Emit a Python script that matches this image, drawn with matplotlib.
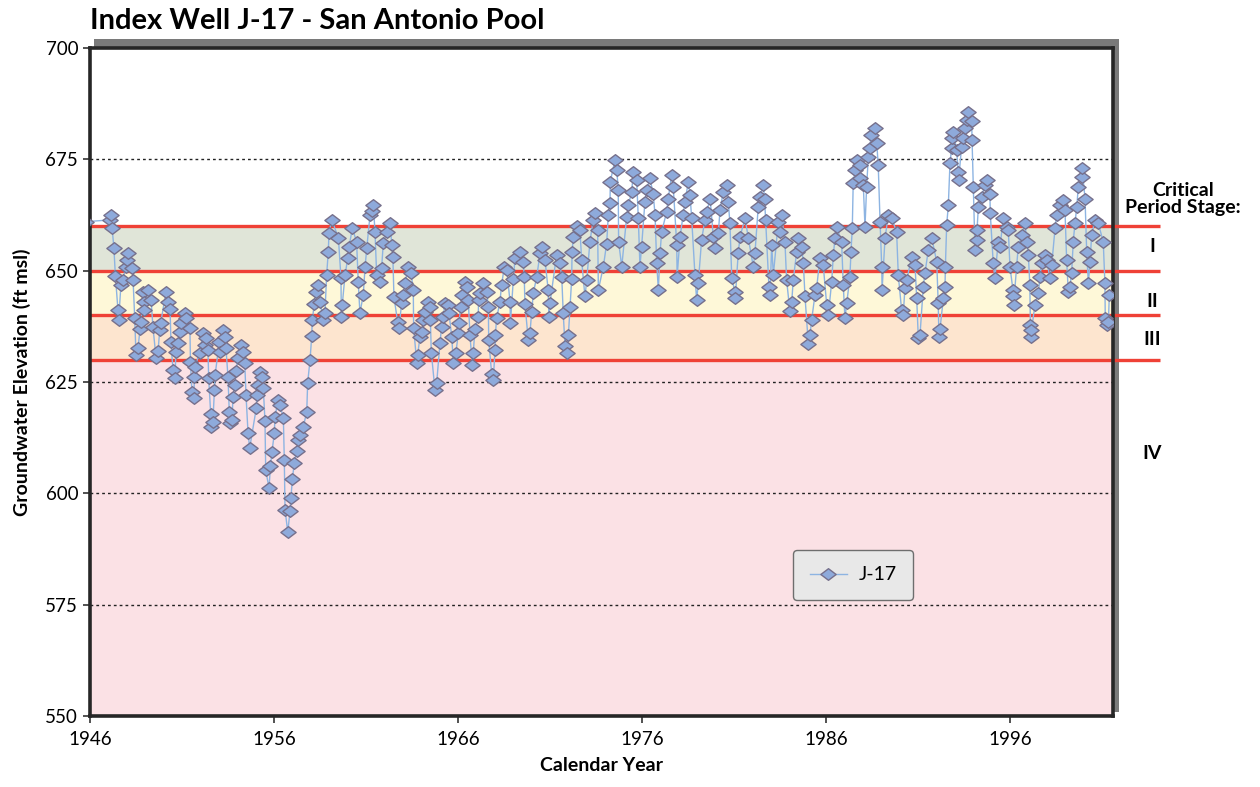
import matplotlib
matplotlib.use("Agg")
import matplotlib.pyplot as plt
import matplotlib.patches as mpatches
from matplotlib.path import Path
import matplotlib.transforms as mtransforms

plt.rcParams['font.family'] = ['Lato', 'DejaVu Sans']

yr_a = [1945.80, 1947.08, 1947.14, 1947.20, 1947.30, 1947.38, 1947.52, 1947.56,
        1947.68, 1947.79, 1947.94, 1948.01, 1948.07, 1948.28, 1948.34, 1948.43,
        1948.50, 1948.61, 1948.72, 1948.77, 1948.88, 1948.93, 1948.96, 1949.15,
        1949.32, 1949.42, 1949.59, 1949.70, 1949.79, 1949.84, 1950.13, 1950.24,
        1950.35, 1950.40, 1950.51, 1950.62, 1950.67, 1950.78, 1950.89, 1950.95,
        1951.15, 1951.22, 1951.43, 1951.46, 1951.54, 1951.65, 1951.67, 1951.69,
        1951.96, 1952.14, 1952.23, 1952.30, 1952.41, 1952.45, 1952.56, 1952.58,
        1952.68, 1952.76, 1952.80, 1953.03, 1953.06, 1953.23, 1953.32, 1953.39,
        1953.50, 1953.57, 1953.61, 1953.72, 1953.77, 1953.86, 1953.94, 1954.04,
        1954.21, 1954.32, 1954.41, 1954.48, 1954.59, 1954.68]
ft_a = [661.0, 661.4, 662.5, 659.6, 655.0, 648.8, 641.2, 639.0,
        646.8, 648.0, 650.8, 652.4, 654.0, 650.6, 648.0, 639.4,
        631.0, 632.6, 636.9, 638.5, 645.2, 643.0, 641.2, 645.6,
        643.4, 637.4, 630.4, 632.0, 636.7, 638.2, 645.2, 643.0,
        641.4, 634.0, 627.7, 625.9, 631.7, 633.8, 636.2, 638.2,
        640.5, 639.4, 637.1, 629.5, 622.8, 621.4, 626.1, 628.4,
        631.5, 636.0, 633.3, 634.9, 632.2, 625.9, 617.8, 614.9,
        616.0, 623.2, 626.6, 634.0, 631.7, 636.7, 635.1, 632.6,
        626.1, 618.3, 615.8, 616.5, 621.6, 624.3, 627.5, 630.4,
        633.3, 631.7, 629.3, 622.0, 613.5, 610.2]

yr_b = [1955.04, 1955.07, 1955.15, 1955.24, 1955.36, 1955.42, 1955.51, 1955.55,
        1955.73, 1955.81, 1955.89, 1956.02, 1956.05, 1956.23, 1956.33, 1956.51,
        1956.56, 1956.60, 1956.75, 1956.87, 1956.92, 1957.00, 1957.10, 1957.23,
        1957.32, 1957.41, 1957.59, 1957.78, 1957.83, 1957.96, 1958.05, 1958.08,
        1958.19, 1958.27, 1958.38, 1958.50, 1958.68, 1958.77, 1958.86, 1958.95,
        1958.99, 1959.14, 1959.50, 1959.64, 1959.66, 1959.71, 1959.86, 1960.01,
        1960.08, 1960.26, 1960.49, 1960.58, 1960.67, 1960.85, 1960.95, 1961.04,
        1961.22, 1961.31, 1961.40, 1961.49, 1961.58, 1961.76, 1961.85, 1961.94,
        1962.13, 1962.30, 1962.40, 1962.46, 1962.52, 1962.72, 1962.79, 1962.94,
        1963.03, 1963.12, 1963.30, 1963.45, 1963.57, 1963.59, 1963.76, 1963.81,
        1963.93, 1964.03, 1964.11, 1964.21]
ft_b = [619.2, 622.1, 624.3, 627.3, 626.2, 623.6, 616.2, 605.2,
        601.2, 606.2, 609.3, 613.6, 617.1, 621.0, 619.8, 616.9,
        607.5, 596.3, 591.3, 596.0, 599.0, 603.2, 606.8, 609.5,
        612.0, 613.1, 614.9, 618.3, 624.8, 630.0, 635.3, 638.9,
        642.5, 645.2, 646.8, 643.0, 638.9, 640.5, 649.0, 654.2,
        658.5, 661.4, 657.4, 648.4, 639.6, 642.3, 649.0, 652.8,
        655.3, 659.6, 656.4, 647.4, 640.5, 644.5, 650.8, 655.0,
        662.5, 663.4, 664.7, 658.7, 649.0, 647.4, 650.6, 656.2,
        658.7, 660.7, 655.8, 653.1, 644.1, 638.5, 637.1, 642.7,
        644.5, 647.2, 650.8, 649.5, 645.7, 637.1, 629.3, 631.1,
        635.1, 636.2, 638.9, 640.7]

yr_c = [1964.39, 1964.46, 1964.50, 1964.55, 1964.75, 1964.84, 1965.02, 1965.11,
        1965.20, 1965.29, 1965.47, 1965.51, 1965.66, 1965.75, 1965.88, 1966.02,
        1966.04, 1966.16, 1966.23, 1966.38, 1966.47, 1966.56, 1966.65, 1966.78,
        1966.83, 1966.92, 1967.10, 1967.12, 1967.20, 1967.37, 1967.56, 1967.65,
        1967.67, 1967.83, 1967.92, 1968.01, 1968.03, 1968.10, 1968.28, 1968.37,
        1968.52, 1968.65, 1968.83, 1968.85, 1969.01, 1969.10, 1969.37, 1969.55,
        1969.60, 1969.64, 1969.82, 1969.91, 1970.01, 1970.09, 1970.28, 1970.46,
        1970.55, 1970.73, 1970.90, 1970.94, 1971.00, 1971.36, 1971.54, 1971.64,
        1971.72, 1971.82, 1971.91, 1972.00, 1972.09, 1972.18, 1972.20, 1972.27,
        1972.45, 1972.63, 1972.72, 1972.90, 1973.00, 1973.17, 1973.35, 1973.45,
        1973.59, 1973.63]
ft_c = [643.0, 641.9, 638.9, 631.6, 623.2, 624.7, 633.7, 637.4,
        639.7, 642.7, 642.3, 640.4, 635.2, 629.2, 631.4, 635.9,
        638.2, 641.9, 644.5, 647.5, 646.4, 643.4, 635.5, 628.8,
        631.4, 637.0, 639.7, 643.4, 644.9, 647.2, 645.3, 641.9,
        634.4, 626.9, 625.4, 632.2, 635.5, 639.3, 643.0, 646.8,
        650.9, 650.2, 643.0, 638.2, 648.2, 652.8, 654.3, 651.9,
        648.6, 642.5, 634.4, 635.9, 640.8, 644.9, 648.6, 653.9,
        655.4, 652.4, 645.7, 639.7, 642.7, 653.6, 651.7, 648.6,
        640.4, 633.0, 631.4, 635.5, 641.9, 648.2, 654.3, 657.5,
        660.0, 659.1, 652.4, 644.2, 647.9, 656.5, 661.4, 662.9,
        659.1, 645.7]

yr_d = [1973.90, 1974.08, 1974.17, 1974.26, 1974.28, 1974.53, 1974.63, 1974.71,
        1974.73, 1974.90, 1975.17, 1975.26, 1975.44, 1975.53, 1975.71, 1975.80,
        1975.89, 1975.98, 1976.16, 1976.26, 1976.43, 1976.61, 1976.71, 1976.80,
        1976.89, 1976.98, 1977.07, 1977.34, 1977.43, 1977.61, 1977.70, 1977.89,
        1977.91, 1978.07, 1978.24, 1978.34, 1978.52, 1978.61, 1978.70, 1978.88,
        1978.97, 1979.06, 1979.24, 1979.42, 1979.52, 1979.70, 1979.88, 1979.97,
        1980.15, 1980.24, 1980.42, 1980.60, 1980.69, 1980.78, 1980.88, 1981.05,
        1981.07, 1981.23, 1981.33, 1981.60, 1981.78, 1982.05, 1982.14, 1982.32,
        1982.41]
ft_d = [650.9, 656.1, 662.5, 665.1, 670.0, 674.8, 672.6, 668.1,
        656.5, 650.9, 662.1, 664.7, 667.7, 672.2, 670.4, 661.8,
        650.9, 655.4, 665.5, 668.1, 670.7, 667.3, 662.5, 651.7,
        645.7, 653.9, 658.7, 663.2, 666.2, 671.5, 668.8, 655.8,
        648.6, 657.6, 662.5, 665.5, 670.0, 667.0, 661.8, 649.0,
        643.4, 647.2, 656.9, 661.4, 663.2, 666.2, 657.6, 655.0,
        658.4, 663.6, 667.7, 669.2, 665.5, 660.6, 648.3, 645.3,
        643.8, 653.9, 657.6, 661.8, 657.3, 650.9, 653.9, 664.4,
        666.6]

yr_e = [1982.60, 1982.66, 1982.72, 1982.90, 1982.96, 1983.05, 1983.14, 1983.41,
        1983.50, 1983.59, 1983.77, 1983.86, 1984.04, 1984.14, 1984.22, 1984.41,
        1984.50, 1984.68, 1984.77, 1984.86, 1985.04, 1985.13, 1985.22, 1985.40,
        1985.49, 1985.67, 1985.85, 1986.04, 1986.13, 1986.31, 1986.40, 1986.49,
        1986.58, 1986.85, 1986.94, 1987.03, 1987.13, 1987.30, 1987.36, 1987.43,
        1987.48, 1987.58, 1987.67, 1987.85, 1987.87, 1988.03, 1988.12, 1988.21,
        1988.30, 1988.39, 1988.45, 1988.66, 1988.76, 1988.84, 1988.94, 1989.03,
        1989.05, 1989.21, 1989.39, 1989.57, 1989.84, 1989.93, 1990.11, 1990.20,
        1990.29, 1990.39, 1990.66, 1990.84, 1990.93, 1991.02, 1991.11, 1991.29,
        1991.38, 1991.56, 1991.75]
ft_e = [669.2, 666.2, 661.4, 646.4, 644.5, 655.8, 649.0, 661.0,
        658.7, 662.5, 656.5, 647.9, 640.9, 643.0, 647.9, 654.3,
        657.3, 655.4, 651.7, 644.2, 633.6, 635.5, 638.9, 644.5,
        646.0, 652.8, 651.3, 642.3, 640.1, 647.5, 653.5, 657.3,
        659.8, 656.5, 646.8, 639.3, 642.7, 648.6, 654.3, 659.5,
        669.6, 672.6, 674.8, 673.7, 670.7, 669.2, 659.8, 668.8,
        675.6, 677.5, 680.5, 682.0, 678.6, 673.7, 661.0, 650.9,
        645.7, 657.3, 662.5, 661.8, 658.7, 649.0, 641.2, 640.1,
        646.0, 647.9, 653.1, 651.3, 643.8, 634.8, 635.5, 646.4,
        649.4, 654.6, 657.3]

yr_f = [1992.02, 1992.10, 1992.14, 1992.20, 1992.38, 1992.47, 1992.49, 1992.56,
        1992.65, 1992.74, 1992.83, 1992.85, 1992.92, 1993.10, 1993.19, 1993.21,
        1993.37, 1993.46, 1993.55, 1993.65, 1993.73, 1993.92, 1993.94, 1994.01,
        1994.10, 1994.19, 1994.21, 1994.28, 1994.46, 1994.64, 1994.73, 1994.91,
        1994.93, 1995.09, 1995.18, 1995.36, 1995.46, 1995.64, 1995.82, 1995.91,
        1996.00, 1996.16, 1996.18, 1996.20, 1996.36, 1996.45, 1996.64, 1996.82,
        1996.91, 1997.00, 1997.08, 1997.11, 1997.14, 1997.17, 1997.36, 1997.54,
        1997.63, 1997.72, 1997.90, 1998.00, 1998.17, 1998.27, 1998.45, 1998.54,
        1998.72, 1998.90, 1998.99, 1999.08, 1999.17, 1999.26, 1999.35, 1999.44,
        1999.53, 1999.63, 1999.71, 1999.90, 1999.92, 2000.08, 2000.17, 2000.26,
        2000.35, 2000.44, 2000.62, 2000.80, 2001.07, 2001.16, 2001.18, 2001.26,
        2001.35, 2001.40]
ft_f = [652.0, 642.7, 635.2, 637.0, 643.8, 646.4, 650.9, 660.2,
        664.7, 674.1, 677.5, 679.7, 681.2, 677.1, 672.2, 670.4,
        677.8, 679.7, 682.0, 683.8, 685.7, 683.5, 679.3, 668.8,
        654.6, 656.9, 659.1, 664.2, 666.6, 669.2, 670.4, 667.3,
        662.9, 651.7, 648.3, 656.5, 655.4, 661.8, 659.8, 659.1,
        650.9, 645.7, 644.2, 642.3, 650.9, 655.4, 658.0, 660.6,
        656.5, 653.5, 646.8, 637.8, 635.2, 636.7, 642.3, 644.9,
        648.6, 651.7, 653.5, 652.4, 648.3, 651.3, 659.5, 662.5,
        664.7, 665.8, 663.6, 652.4, 645.3, 646.4, 649.4, 656.5,
        660.6, 664.2, 668.7, 671.1, 673.0, 666.2, 654.3, 647.2,
        652.0, 658.0, 661.4, 660.6, 656.5, 647.2, 639.3, 637.8,
        638.5, 644.5]

stage_limits = [660, 650, 640, 630]
stage_labels = ['I', 'II', 'III', 'IV']
stage_label_ft = [655.5, 643.0, 634.5, 609.0]
x_ticks = [1946, 1956, 1966, 1976, 1986, 1996]
y_ticks = [550, 575, 600, 625, 650, 675, 700]
#############

years = yr_a + yr_b + yr_c + yr_d + yr_e + yr_f
elev = ft_a + ft_b + ft_c + ft_d + ft_e + ft_f
assert len(years) == len(elev)

fig = plt.figure(figsize=(12.6, 7.87), dpi=100)
ax = fig.add_axes([90 / 1260, 1 - 716 / 787, 1023 / 1260, 668 / 787])
ax.set_zorder(2)

# drop shadow behind the frame (top/right)
shadow = mpatches.Rectangle((94 / 1260, 1 - 712 / 787), 1025 / 1260, 668 / 787 + 5 / 787,
                            transform=fig.transFigure, facecolor='#7a7a7a',
                            edgecolor='none', zorder=1)
fig.add_artist(shadow)

# stage bands
ax.axhspan(650, 660, color='#e0e5d8', zorder=0, lw=0)
ax.axhspan(640, 650, color='#fef8d8', zorder=0, lw=0)
ax.axhspan(630, 640, color='#fde5cf', zorder=0, lw=0)
ax.axhspan(540, 630, color='#fbe1e5', zorder=0, lw=0)

for gy in [575, 600, 625, 675]:
    ax.axhline(gy, color='#222222', lw=1.0, ls=(0, (2, 2.2)), zorder=1)

# red stage lines run past the right edge of the frame
trans = mtransforms.blended_transform_factory(ax.transAxes, ax.transData)
for lim in stage_limits:
    ax.plot([0, (1160 - 90) / 1023], [lim, lim], color='#ef4136', lw=2.4,
            transform=trans, clip_on=False, zorder=2, solid_capstyle='butt')

diamond = Path([(-0.5, 0), (0, 0.38), (0.5, 0), (0, -0.38), (-0.5, 0)],
               [Path.MOVETO, Path.LINETO, Path.LINETO, Path.LINETO, Path.CLOSEPOLY])
ax.plot(years, elev, color='#8db4e2', lw=1.0, marker=diamond, markersize=11,
        markerfacecolor='#8eaadb', markeredgecolor='#76708c', markeredgewidth=1.0,
        zorder=3, label='J-17')

ax.set_xlim(1946, 2001.6)
ax.set_ylim(550, 700)
ax.set_xticks(x_ticks)
ax.set_yticks(y_ticks)
ax.tick_params(axis='both', labelsize=13.5, length=5, width=1.2, color='#333333')
ax.tick_params(axis='x', pad=6)

for side in ['left', 'bottom', 'top', 'right']:
    ax.spines[side].set_color('#262626')
    ax.spines[side].set_linewidth(2.6)

ax.set_ylabel('Groundwater Elevation (ft msl)', fontsize=14, fontweight='bold', labelpad=10)
ax.set_xlabel('Calendar Year', fontsize=14, fontweight='bold', labelpad=6)
fig.text(90 / 1260, 1 - 21 / 787, 'Index Well J-17 - San Antonio Pool', fontsize=21,
         fontweight='bold', va='center', ha='left')

lbl_trans = mtransforms.blended_transform_factory(fig.transFigure, ax.transData)
fig.text(1183 / 1260, 1 - 199 / 787, 'Critical\nPeriod Stage:', fontsize=14,
         fontweight='bold', ha='center', va='center', linespacing=1.05)
for lab, yv in zip(stage_labels, stage_label_ft):
    ax.text(1152 / 1260, yv, lab, transform=lbl_trans, fontsize=14,
            fontweight='bold', ha='center', va='center')

leg = ax.legend(loc='center', bbox_to_anchor=((853 - 90) / 1023, (716 - 575) / 668),
                fontsize=14, frameon=True, fancybox=True, handlelength=1.9,
                handletextpad=0.6, borderpad=0.85, borderaxespad=0,
                facecolor='#e8e8e8', edgecolor='#6e6e6e', framealpha=1)
leg.get_frame().set_linewidth(1.0)

fig.savefig('out.png', dpi=100, facecolor='white')
